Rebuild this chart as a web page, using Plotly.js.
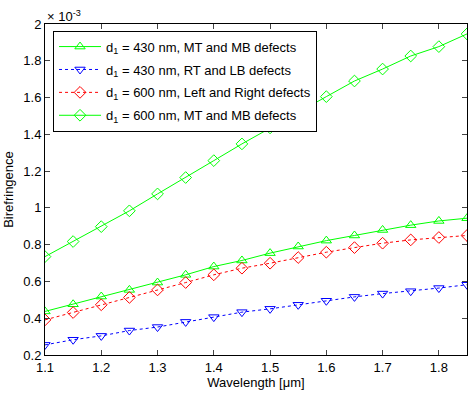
<!DOCTYPE html>
<html>
<head>
<meta charset="utf-8">
<script src="https://cdn.plot.ly/plotly-3.0.1.min.js"></script>
<style>html,body{margin:0;padding:0;background:#fff;}#chart{width:474px;height:394px;}</style>
</head>
<body>
<div id="chart"></div>
<script>
var wavelength = [1.1, 1.15, 1.2, 1.25, 1.3, 1.35, 1.4, 1.45, 1.5, 1.55, 1.6, 1.65, 1.7, 1.75, 1.8, 1.85];
// values in units of 1e-3
var d430_MT_MB = [0.437, 0.476, 0.518, 0.554, 0.594, 0.636, 0.681, 0.714, 0.754, 0.790, 0.822, 0.850, 0.880, 0.906, 0.929, 0.944];
var d430_RT_LB = [0.255, 0.283, 0.304, 0.333, 0.352, 0.380, 0.406, 0.433, 0.451, 0.473, 0.495, 0.516, 0.534, 0.547, 0.564, 0.582];
var d600_LR = [0.391, 0.431, 0.473, 0.513, 0.554, 0.594, 0.636, 0.672, 0.699, 0.730, 0.759, 0.784, 0.808, 0.826, 0.839, 0.850];
var d600_MT_MB = [0.735, 0.817, 0.898, 0.984, 1.076, 1.165, 1.257, 1.348, 1.435, 1.520, 1.605, 1.690, 1.755, 1.826, 1.877, 1.946];
var names = [
  'd<sub>1</sub> = 430 nm, MT and MB defects',
  'd<sub>1</sub> = 430 nm, RT and LB defects',
  'd<sub>1</sub> = 600 nm, Left and Right defects',
  'd<sub>1</sub> = 600 nm, MT and MB defects'
];
var xTickVals = [1.1, 1.2, 1.3, 1.4, 1.5, 1.6, 1.7, 1.8];
var yTickVals = [0.2, 0.4, 0.6, 0.8, 1, 1.2, 1.4, 1.6, 1.8, 2];

var traces = [
  {x: wavelength, y: d430_MT_MB, name: names[0], legendgroup: 'a', mode: 'lines+markers',
   line: {color: '#00ff00', width: 1, dash: 'solid'},
   marker: {symbol: 'triangle-up-open', size: 9, color: '#00ff00', line: {width: 1}}},
  {x: wavelength, y: d430_RT_LB, name: names[1], legendgroup: 'b', mode: 'lines+markers',
   line: {color: '#0000ff', width: 1, dash: '3px,3px'},
   marker: {symbol: 'triangle-down-open', size: 9, color: '#0000ff', line: {width: 1}}},
  {x: wavelength, y: d600_LR, name: names[2], legendgroup: 'c', mode: 'lines+markers',
   line: {color: '#ff0000', width: 1, dash: '3px,3px'},
   marker: {symbol: 'diamond-open', size: 9, color: '#ff0000', line: {width: 1}}},
  {x: wavelength, y: d600_MT_MB, name: names[3], legendgroup: 'd', mode: 'lines+markers',
   line: {color: '#00ff00', width: 1, dash: 'solid'},
   marker: {symbol: 'diamond-open', size: 9, color: '#00ff00', line: {width: 1}}}
];

var layout = {
  width: 474, height: 394,
  margin: {l: 45, r: 7, t: 24, b: 39},
  paper_bgcolor: '#fff', plot_bgcolor: '#fff',
  font: {family: 'Liberation Sans, Arial, sans-serif', size: 13, color: '#000'},
  showlegend: true,
  legend: {x: 0.019, y: 0.98, xanchor: 'left', yanchor: 'top',
    bgcolor: '#fff', bordercolor: '#000', borderwidth: 1, itemwidth: 42,
    font: {size: 13}, tracegroupgap: 3, traceorder: 'grouped'},
  xaxis: {range: [1.1, 1.85], tickvals: xTickVals, ticks: 'inside', ticklen: 5,
    showline: true, linecolor: '#000', linewidth: 1, mirror: 'ticks', showgrid: false, zeroline: false,
    title: {text: 'Wavelength [μm]', standoff: 4, font: {size: 13}}},
  yaxis: {range: [0.2, 2], tickvals: yTickVals, ticks: 'inside', ticklen: 5,
    showline: true, linecolor: '#000', linewidth: 1, mirror: 'ticks', showgrid: false, zeroline: false,
    title: {text: 'Birefringence', standoff: 6, font: {size: 13}}},
  annotations: [{xref: 'paper', yref: 'paper', x: 0, y: 1, xanchor: 'left', yanchor: 'bottom',
    text: '× 10<sup>-3</sup>', showarrow: false, font: {size: 13}, yshift: -2}]
};
Plotly.newPlot('chart', traces, layout, {displayModeBar: false, staticPlot: true});
</script>
</body>
</html>
